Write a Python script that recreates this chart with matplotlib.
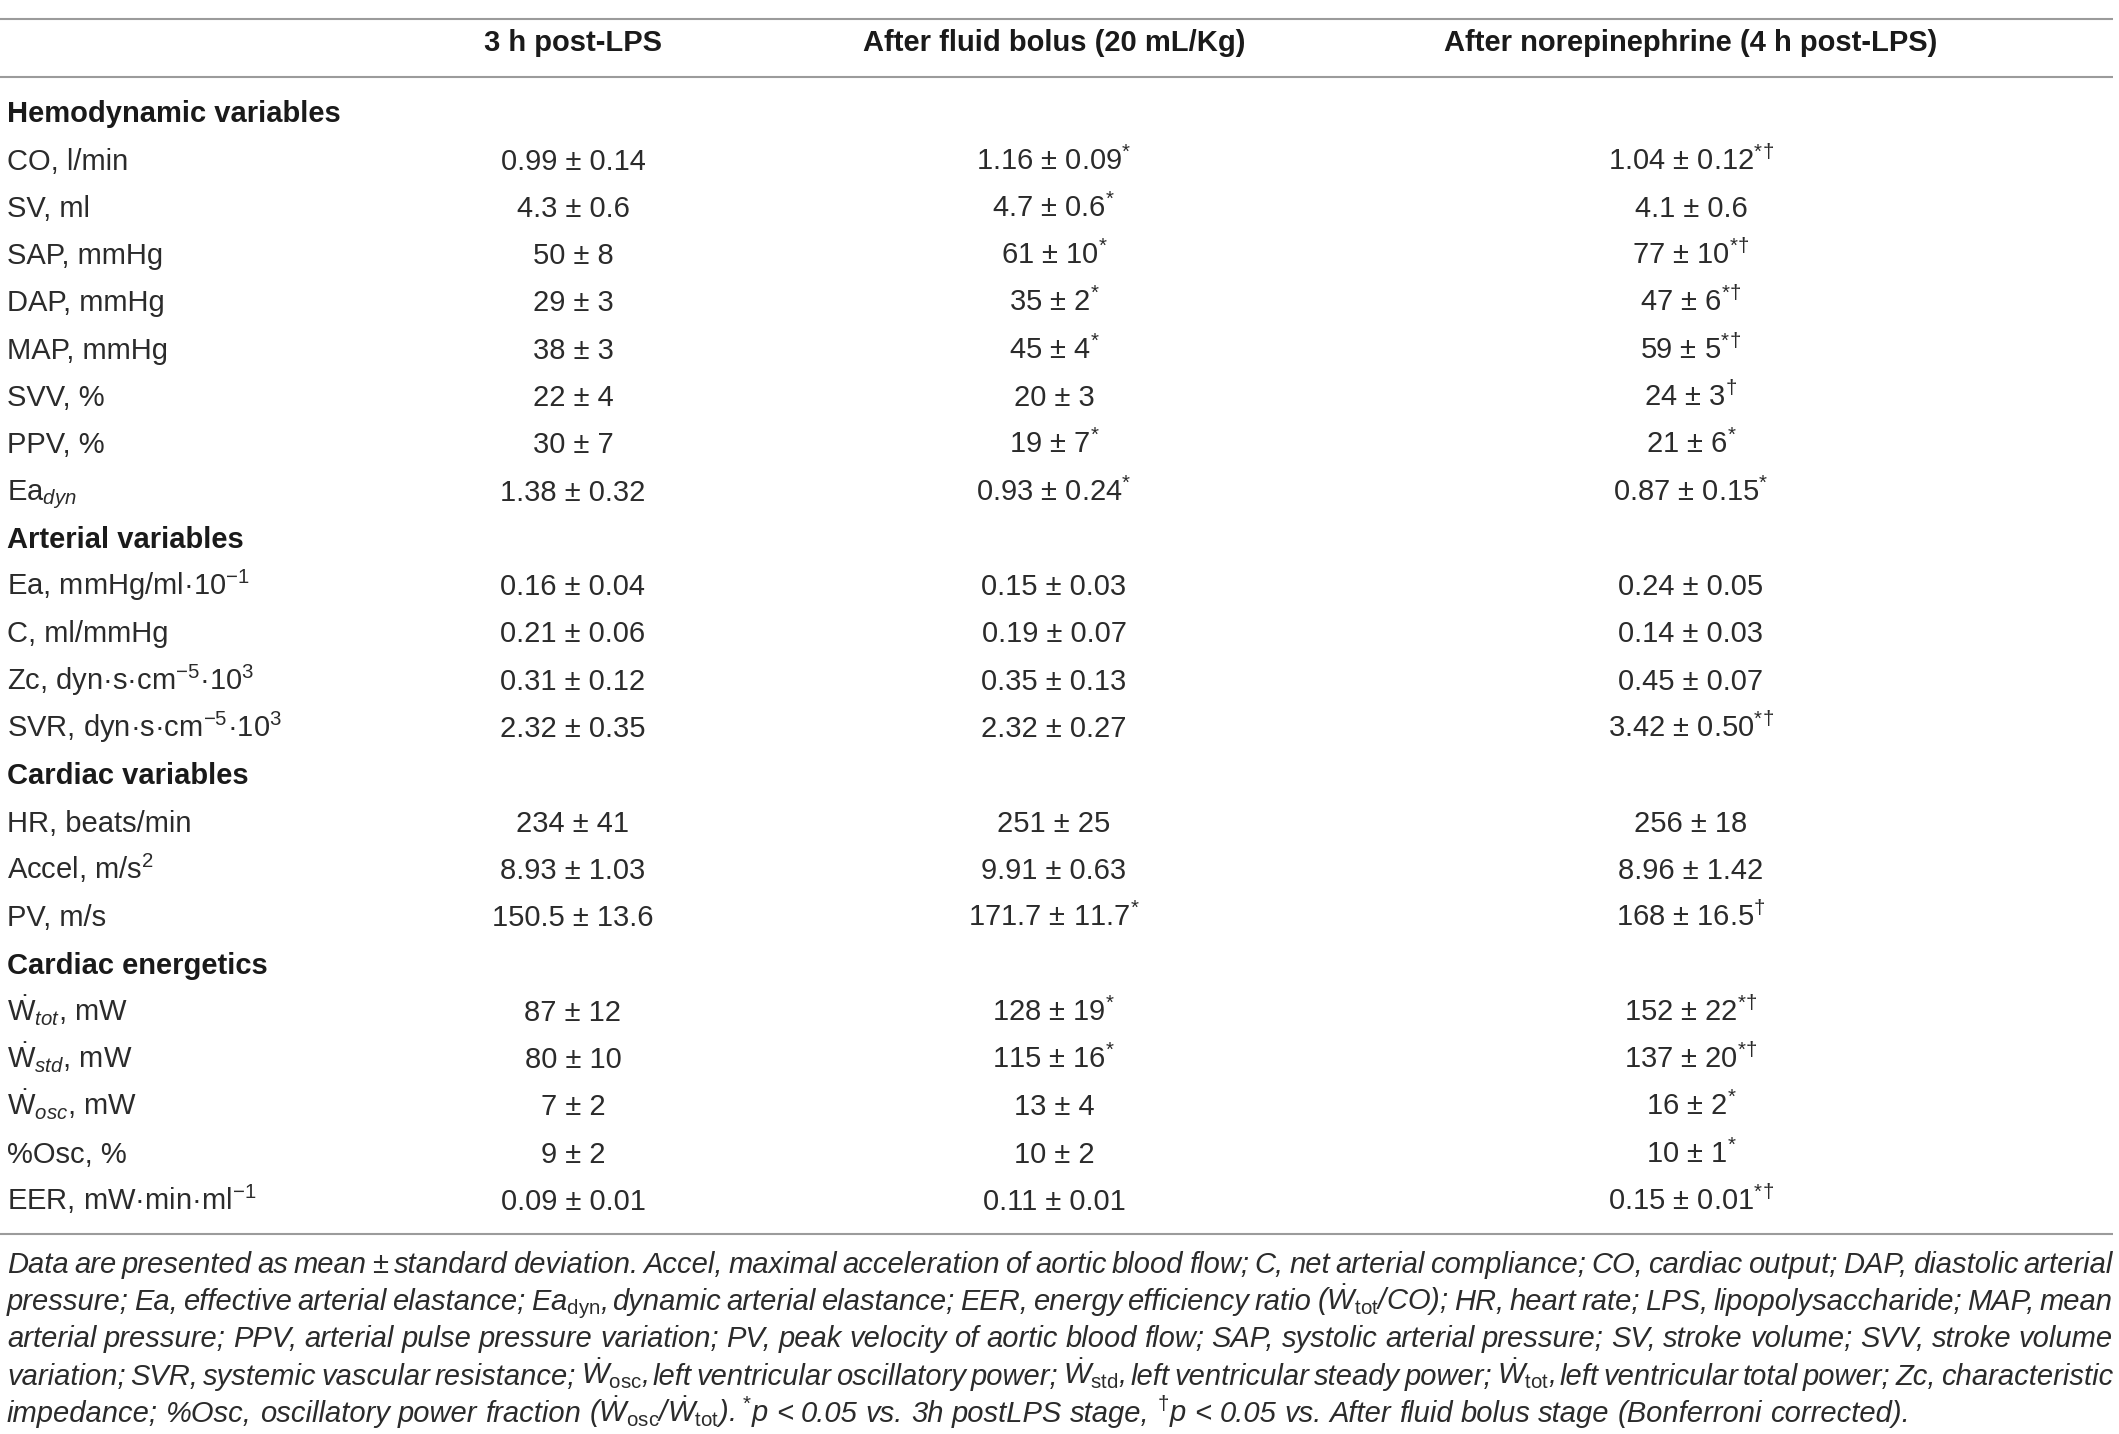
import matplotlib
matplotlib.use("Agg")
import matplotlib.pyplot as plt

# column headers
col_headers = ["3 h post-LPS", "After fluid bolus (20 mL/Kg)", "After norepinephrine (4 h post-LPS)"]

# sections: title, row labels, values per column
sec_titles = ["Hemodynamic variables", "Arterial variables", "Cardiac variables", "Cardiac energetics"]

hemo_labels = ["CO, l/min", "SV, ml", "SAP, mmHg", "DAP, mmHg", "MAP, mmHg", "SVV, %", "PPV, %", r"Ea$_{dyn}$"]
hemo_lps = ["0.99 ± 0.14", "4.3 ± 0.6", "50 ± 8", "29 ± 3", "38 ± 3", "22 ± 4", "30 ± 7", "1.38 ± 0.32"]
hemo_fluid = ["1.16 ± 0.09*", "4.7 ± 0.6*", "61 ± 10*", "35 ± 2*", "45 ± 4*", "20 ± 3", "19 ± 7*", "0.93 ± 0.24*"]
hemo_ne = ["1.04 ± 0.12*†", "4.1 ± 0.6", "77 ± 10*†", "47 ± 6*†", "59 ± 5*†", "24 ± 3†", "21 ± 6*", "0.87 ± 0.15*"]

art_labels = [r"Ea, mmHg/ml·10$^{-1}$", "C, ml/mmHg", r"Zc, dyn·s·cm$^{-5}$·10$^{3}$", r"SVR, dyn·s·cm$^{-5}$·10$^{3}$"]
art_lps = ["0.16 ± 0.04", "0.21 ± 0.06", "0.31 ± 0.12", "2.32 ± 0.35"]
art_fluid = ["0.15 ± 0.03", "0.19 ± 0.07", "0.35 ± 0.13", "2.32 ± 0.27"]
art_ne = ["0.24 ± 0.05", "0.14 ± 0.03", "0.45 ± 0.07", "3.42 ± 0.50*†"]

card_labels = ["HR, beats/min", r"Accel, m/s$^{2}$", "PV, m/s"]
card_lps = ["234 ± 41", "8.93 ± 1.03", "150.5 ± 13.6"]
card_fluid = ["251 ± 25", "9.91 ± 0.63", "171.7 ± 11.7*"]
card_ne = ["256 ± 18", "8.96 ± 1.42", "168 ± 16.5†"]

ener_labels = [r"$\dot{\mathrm{W}}_{tot}$, mW", r"$\dot{\mathrm{W}}_{std}$, mW", r"$\dot{\mathrm{W}}_{osc}$, mW",
               "%Osc, %", r"EER, mW·min·ml$^{-1}$"]
ener_lps = ["87 ± 12", "80 ± 10", "7 ± 2", "9 ± 2", "0.09 ± 0.01"]
ener_fluid = ["128 ± 19*", "115 ± 16*", "13 ± 4", "10 ± 2", "0.11 ± 0.01"]
ener_ne = ["152 ± 22*†", "137 ± 20*†", "16 ± 2*", "10 ± 1*", "0.15 ± 0.01*†"]

sections = [
    (sec_titles[0], hemo_labels, hemo_lps, hemo_fluid, hemo_ne),
    (sec_titles[1], art_labels, art_lps, art_fluid, art_ne),
    (sec_titles[2], card_labels, card_lps, card_fluid, card_ne),
    (sec_titles[3], ener_labels, ener_lps, ener_fluid, ener_ne),
]

note_lines = [
    "Data are presented as mean ± standard deviation. Accel, maximal acceleration of aortic blood flow; "
    "C, net arterial compliance; CO, cardiac output; DAP, diastolic arterial",
    r"pressure; Ea, effective arterial elastance; Ea$_{\mathrm{dyn}}$, dynamic arterial elastance; EER, energy "
    r"efficiency ratio ($\dot{W}_{\mathrm{tot}}$/CO); HR, heart rate; LPS, lipopolysaccharide; MAP, mean",
    "arterial pressure; PPV, arterial pulse pressure variation; PV, peak velocity of aortic blood flow; "
    "SAP, systolic arterial pressure; SV, stroke volume; SVV, stroke volume",
    r"variation; SVR, systemic vascular resistance; $\dot{W}_{\mathrm{osc}}$, left ventricular oscillatory power; "
    r"$\dot{W}_{\mathrm{std}}$, left ventricular steady power; $\dot{W}_{\mathrm{tot}}$, left ventricular total power; "
    "Zc, characteristic",
    r"impedance; %Osc, oscillatory power fraction ($\dot{W}_{\mathrm{osc}}$/$\dot{W}_{\mathrm{tot}}$). "
    r"$^{*}$p < 0.05 vs. 3h postLPS stage, $^{\dagger}$p < 0.05 vs. After fluid bolus stage (Bonferroni corrected).",
]


def fmt_value(v):
    # trailing significance marks become superscripts
    core = v.rstrip("*†")
    marks = v[len(core):]
    if not marks:
        return v
    return core + "$^{" + marks.replace("*†", r"*\!\dagger").replace("†", r"\dagger") + "}$"


body_font = "Liberation Sans"
plt.rcParams["font.family"] = [body_font, "DejaVu Sans"]
plt.rcParams["mathtext.fontset"] = "custom"
plt.rcParams["mathtext.rm"] = body_font
plt.rcParams["mathtext.it"] = body_font + ":italic"
plt.rcParams["mathtext.bf"] = body_font + ":bold"

W, H = 2119, 1434
fig = plt.figure(figsize=(W / 100, H / 100), dpi=100)
ax = fig.add_axes([0, 0, 1, 1])
ax.set_xlim(0, W)
ax.set_ylim(H, 0)
ax.axis("off")

txt_color = "#2b2b2b"
line_color = "#9b9b9b"
fs = 21
x_label = 7
col_x = [573, 1054, 1691]

# rules
for y in (19, 77, 1234):
    ax.plot([0, 2113], [y, y], color=line_color, lw=1.5, solid_capstyle="butt")

# headers
for cx, h in zip(col_x, col_headers):
    ax.text(cx, 41 + 10, h, ha="center", va="baseline", fontsize=fs, fontweight="bold", color="#1a1a1a")

# body rows
y = 112.2
step = 47.3
for title, labels, c1, c2, c3 in sections:
    ax.text(x_label, y + 10, title, ha="left", va="baseline", fontsize=fs, fontweight="bold", color="#1a1a1a")
    y += step
    for lab, a, b, c in zip(labels, c1, c2, c3):
        ax.text(x_label, y + 10, lab, ha="left", va="baseline", fontsize=fs, color=txt_color)
        for cx, v in zip(col_x, (a, b, c)):
            ax.text(cx, y + 10, fmt_value(v), ha="center", va="baseline", fontsize=fs, color=txt_color)
        y += step

# footnote, justified line by line
renderer = fig.canvas.get_renderer()
nfs = 21
note_kw = dict(fontsize=nfs, fontstyle="italic", color=txt_color, ha="left", va="baseline")
x0, x1 = 7, 2113
ny = 1264 + 9
for i, line in enumerate(note_lines):
    words = line.split(" ")
    texts = [ax.text(0, ny, w, **note_kw) for w in words]
    widths = [t.get_window_extent(renderer).width for t in texts]
    if i < len(note_lines) - 1:
        gap = (x1 - x0 - sum(widths)) / (len(words) - 1)
    else:
        gap = nfs * 100 / 72 * 0.27
    x = x0
    for t, w in zip(texts, widths):
        t.set_x(x)
        x += w + gap
    ny += 37.2

fig.savefig("out.png", dpi=100)
